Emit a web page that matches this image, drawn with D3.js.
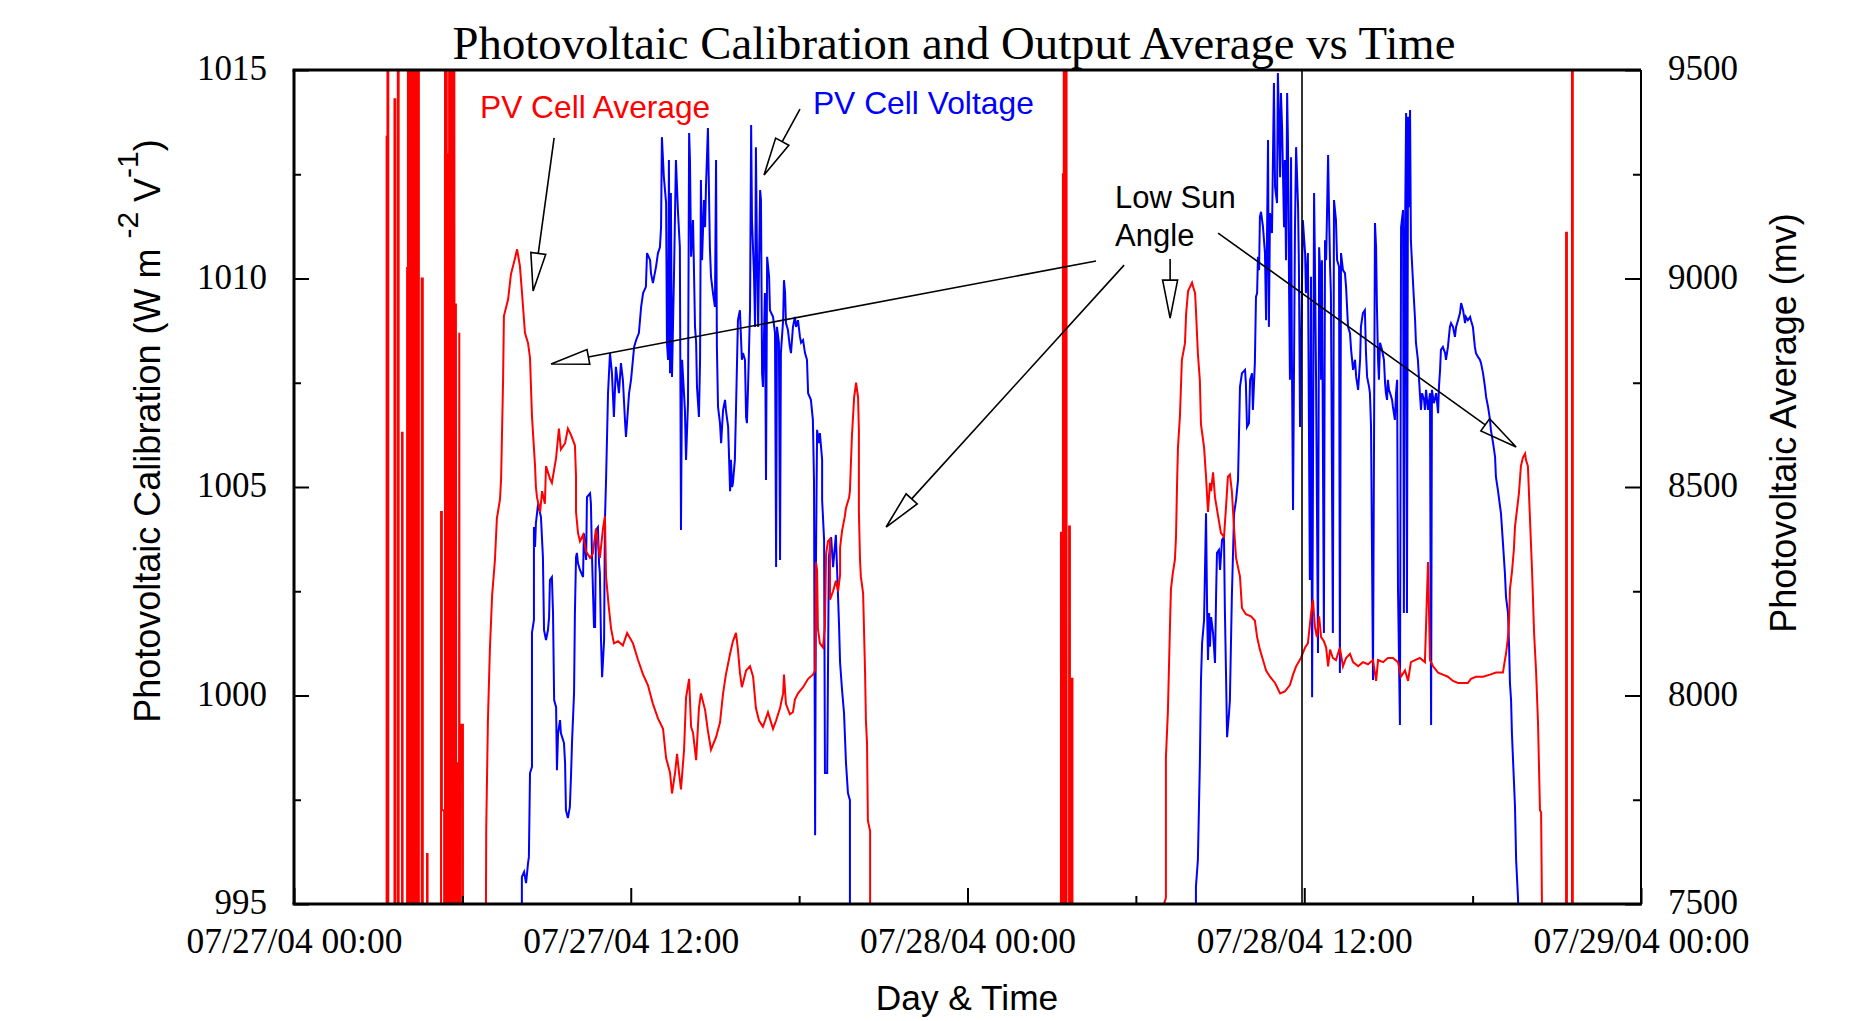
<!DOCTYPE html>
<html>
<head>
<meta charset="utf-8">
<script src="https://d3js.org/d3.v7.min.js"></script>
<style>
  body { margin: 0; background: #fff; }
  text { fill: #000; }
</style>
</head>
<body>
<svg width="1873" height="1021"></svg>
<script>
// hours after 07/27/04 00:00, PV cell average (left axis)
var pvAvgNight1 = [
  [3.30,990],[3.30,1013.4],[3.33,1013.4],[3.33,1020],[3.36,1020],[3.36,990],
  [3.58,990],[3.58,1014.3],[3.61,1014.3],[3.61,990],[3.70,990],[3.70,1020],[3.73,1020],[3.73,990],
  [3.85,990],[3.85,1006.3],[3.87,1006.3],[3.87,990],
  [4.03,990],[4.03,1010.25],[4.06,1010.25],[4.06,1020],[4.075,990],[4.09,1020],[4.105,990],[4.12,1020],
  [4.135,995.5],[4.15,1020],[4.165,990],[4.18,1020],[4.195,1004.2],[4.21,1020],[4.225,990],[4.24,1020],
  [4.255,990],[4.27,1020],[4.285,1002],[4.30,1020],[4.315,990],[4.33,1020],[4.345,990],[4.36,1020],
  [4.375,999.7],[4.39,1020],[4.405,990],[4.42,1020],[4.435,990],[4.45,1020],[4.45,990],
  [4.55,990],[4.55,1010.0],[4.59,1010.0],[4.59,990],
  [4.74,990],[4.74,996.2],[4.76,996.2],[4.76,990],
  [5.24,990],[5.24,1004.4],[5.27,1004.4],[5.27,997.25],[5.35,997.25],[5.35,990],
  [5.38,990],[5.38,1020],[5.395,990],[5.41,1020],[5.425,990],[5.44,1020],[5.455,990],[5.47,1013],
  [5.485,990],[5.50,1013],[5.515,990],[5.53,1020],[5.545,990],[5.56,1020],[5.575,990],[5.59,1020],
  [5.605,990],[5.62,1020],[5.635,990],[5.65,1020],[5.665,990],[5.68,1020],[5.695,990],[5.71,1020],
  [5.725,998.4],[5.74,1009.4],[5.755,990],[5.77,1009.4],[5.785,990],[5.80,998.4],[5.815,990],[5.83,998.4],
  [5.845,990],[5.86,998.4],[5.875,990],[5.89,1008.7],[5.905,990],[5.92,999.3],[5.935,990],[5.95,999.3],
  [6.02,999.3],[6.02,990]
];
var pvAvgDay1 = [
  [6.84,990],[6.84,995],[6.85,996.8],[6.91,999.4],[6.98,1001.1],[7.06,1002.4],[7.16,1003.25],[7.23,1004.25],
  [7.34,1004.7],[7.38,1005.2],[7.45,1007.55],[7.48,1009.1],[7.63,1009.5],[7.73,1010.1],[7.88,1010.5],
  [7.95,1010.7],[8.05,1010.3],[8.12,1009.7],[8.23,1008.7],[8.34,1008.45],[8.41,1008.1],[8.48,1006.7],
  [8.59,1005.5],[8.62,1005.0],[8.66,1004.75],[8.77,1004.4],[8.84,1004.9],[8.94,1004.6],[8.98,1005.5],
  [9.12,1005.2],[9.19,1005.1],[9.34,1005.7],[9.44,1006.4],[9.51,1005.9],[9.66,1006.05],[9.76,1006.4],
  [9.87,1006.25],[10.01,1006.0],[10.05,1005.25],[10.05,1004.4],[10.12,1003.9],[10.19,1003.7],[10.30,1003.85],
  [10.41,1003.45],[10.55,1003.3],[10.65,1003.4],[10.76,1004.0],[10.90,1003.3],[11.01,1004.0],[11.08,1004.3],
  [11.12,1002.85],[11.22,1002.1],[11.30,1001.6],[11.40,1001.25],[11.55,1001.3],[11.72,1001.2],[11.87,1001.5],
  [12.08,1001.25],[12.26,1000.85],[12.44,1000.5],[12.61,1000.25],[12.79,999.8],[12.97,999.45],[13.15,999.2],
  [13.26,998.5],[13.40,998.15],[13.47,997.65],[13.58,998.15],[13.65,998.6],[13.72,998.15],[13.79,997.75],
  [13.90,998.7],[13.97,999.95],[14.08,1000.4],[14.15,999.25],[14.22,999.1],[14.33,998.45],[14.43,999.7],
  [14.50,1000.05],[14.65,999.65],[14.75,999.15],[14.86,998.7],[15.04,999.0],[15.18,999.35],[15.29,1000.05],
  [15.39,1000.5],[15.54,1001.0],[15.64,1001.3],[15.75,1001.5],[15.82,1001.1],[15.89,1000.55],[15.96,1000.2],
  [16.00,1000.3],[16.11,1000.6],[16.25,1000.7],[16.36,1000.45],[16.46,999.7],[16.57,999.4],[16.71,999.25],
  [16.89,999.6],[17.07,999.2],[17.18,999.4],[17.32,999.7],[17.43,1000.05],[17.46,1000.5],[17.53,999.8],
  [17.67,999.55],[17.78,999.6],[17.85,999.9],[17.96,1000.05],[18.14,1000.2],[18.32,1000.4],[18.49,1000.5],
  [18.57,1000.6],[18.60,1003.2],[18.64,1003.0],[18.67,1001.6],[18.74,1001.25],[18.85,1001.15],[18.92,1001.65],
  [18.96,1003.4],[19.03,1003.7],[19.10,1003.75],[19.10,1002.3],[19.21,1002.5],[19.31,1002.75],[19.39,1002.5],
  [19.46,1002.9],[19.46,1003.55],[19.53,1003.95],[19.63,1004.3],[19.67,1004.5],[19.78,1004.75],[19.81,1004.9],
  [19.88,1006.2],[19.96,1007.15],[20.03,1007.5],[20.10,1007.15],[20.13,1006.35],[20.13,1004.4],[20.17,1003.25],
  [20.20,1002.85],[20.28,1002.45],[20.35,1000.55],[20.38,999.4],[20.42,998.85],[20.45,997.0],[20.53,996.75],
  [20.53,990]
];
var pvAvgNight2 = [
  [27.33,990],[27.33,1003.9],[27.36,1003.9],[27.36,990],[27.40,990],[27.40,1012.5],[27.43,1012.5],[27.43,1020],
  [27.47,1020],[27.47,990],[27.50,990],[27.50,1020],[27.53,1020],[27.53,990],[27.62,990],[27.62,1004.05],
  [27.65,1004.05],[27.65,990],[27.70,990],[27.70,1000.4],[27.74,1000.4],[27.74,990]
];
var pvAvgDay2 = [
  [31.00,990],[31.00,995],[31.07,995.15],[31.07,998.5],[31.14,999.6],[31.18,1000.7],[31.22,1001.8],
  [31.25,1002.55],[31.32,1002.95],[31.39,1003.25],[31.43,1003.8],[31.47,1005.15],[31.50,1005.95],
  [31.57,1006.7],[31.64,1008.05],[31.75,1008.45],[31.79,1009.15],[31.86,1009.7],[31.93,1009.8],[32.00,1009.9],
  [32.04,1009.8],[32.11,1009.65],[32.14,1009.25],[32.21,1008.2],[32.28,1007.55],[32.32,1006.5],[32.43,1005.95],
  [32.50,1005.25],[32.57,1004.4],[32.64,1005.1],[32.68,1004.9],[32.75,1005.35],[32.82,1004.75],[32.93,1004.3],
  [33.03,1003.9],[33.14,1003.8],[33.21,1004.5],[33.28,1005.25],[33.35,1005.3],[33.42,1004.9],[33.50,1004.0],
  [33.57,1003.3],[33.71,1002.85],[33.78,1002.1],[33.92,1001.95],[34.10,1001.9],[34.24,1001.8],[34.32,1001.4],
  [34.42,1001.1],[34.53,1000.85],[34.64,1000.6],[34.78,1000.45],[34.96,1000.3],[35.14,1000.05],[35.31,1000.1],
  [35.49,1000.25],[35.60,1000.5],[35.71,1000.7],[35.88,1000.9],[36.03,1001.15],[36.13,1001.25],[36.24,1001.95],
  [36.31,1002.3],[36.38,1001.65],[36.45,1001.4],[36.53,1001.9],[36.60,1001.4],[36.70,1001.3],[36.78,1001.15],
  [36.85,1000.7],[36.92,1001.1],[37.02,1000.9],[37.13,1000.85],[37.27,1001.15],[37.38,1000.7],[37.49,1000.9],
  [37.63,1001.0],[37.74,1000.8],[37.92,1000.7],[38.09,1000.8],[38.27,1000.75],[38.45,1000.85],[38.56,1000.35],
  [38.63,1000.85],[38.81,1000.8],[38.98,1000.9],[39.16,1000.9],[39.34,1000.8],[39.45,1000.45],[39.59,1000.6],
  [39.70,1000.35],[39.80,1000.8],[39.95,1000.85],[40.12,1000.9],[40.30,1000.8],[40.41,1003.2],[40.48,1000.85],
  [40.59,1000.7],[40.77,1000.55],[40.94,1000.5],[41.12,1000.45],[41.30,1000.35],[41.48,1000.3],[41.66,1000.3],
  [41.83,1000.3],[41.94,1000.4],[42.12,1000.45],[42.37,1000.45],[42.62,1000.5],[42.83,1000.55],[43.08,1000.55],
  [43.15,1000.85],[43.19,1001.0],[43.26,1001.4],[43.30,1001.8],[43.33,1002.55],[43.40,1002.95],[43.47,1003.5],
  [43.51,1004.05],[43.58,1004.45],[43.65,1004.85],[43.72,1005.5],[43.79,1005.7],[43.87,1005.8],[43.90,1005.65],
  [43.97,1005.5],[44.04,1004.3],[44.12,1002.95],[44.19,1001.5],[44.26,1000.6],[44.33,999.35],[44.40,997.25],
  [44.44,997.2],[44.47,995],[44.47,990]
];
var pvAvgNight3 = [
  [45.33,990],[45.33,1011.1],[45.36,1011.1],[45.36,990],[45.54,990],[45.54,1020],[45.57,1020],[45.57,990]
];

// PV cell voltage, mv (right axis)
var pvVoltDay1 = [
  [8.12,7400],[8.12,7565],[8.20,7577],[8.27,7550],[8.34,7598],[8.37,7613],[8.41,7814],[8.48,7829],[8.48,8150],
  [8.55,8181],[8.55,8404],[8.59,8356],[8.62,8413],[8.70,8461],[8.77,8437],[8.80,8428],[8.87,8332],[8.91,8157],
  [8.98,8133],[9.05,8157],[9.09,8188],[9.12,8277],[9.19,8284],[9.23,8198],[9.27,7989],[9.34,7972],[9.37,7821],
  [9.41,7910],[9.48,7941],[9.51,7910],[9.62,7886],[9.66,7838],[9.69,7725],[9.76,7706],[9.83,7733],[9.87,7805],
  [9.91,7893],[9.98,8006],[10.01,8198],[10.05,8332],[10.08,8342],[10.12,8317],[10.19,8301],[10.30,8284],
  [10.33,8389],[10.41,8325],[10.44,8476],[10.55,8485],[10.58,8461],[10.62,8332],[10.69,8164],[10.73,8164],
  [10.76,8397],[10.83,8404],[10.87,8317],[10.90,8294],[10.94,8133],[10.98,8044],[11.05,8133],[11.08,8421],
  [11.12,8517],[11.19,8725],[11.26,8821],[11.33,8773],[11.40,8668],[11.47,8788],[11.58,8725],[11.65,8797],
  [11.72,8757],[11.80,8653],[11.83,8620],[11.94,8725],[12.01,8757],[12.12,8836],[12.19,8852],[12.29,8869],
  [12.37,8932],[12.44,8965],[12.54,8980],[12.58,9061],[12.69,9044],[12.72,9013],[12.79,8989],[12.90,9028],
  [12.97,9061],[13.04,9075],[13.08,9123],[13.11,9339],[13.18,9243],[13.26,9181],[13.29,8846],[13.33,8805],
  [13.36,9284],[13.40,8773],[13.43,9205],[13.47,8764],[13.54,9004],[13.61,9284],[13.68,9164],[13.75,9075],
  [13.79,8397],[13.83,8805],[13.93,8685],[13.97,8565],[14.04,8701],[14.08,9349],[14.11,9284],[14.15,9052],
  [14.22,9140],[14.29,8884],[14.33,8846],[14.36,8740],[14.43,8668],[14.47,8805],[14.50,9236],[14.54,9044],
  [14.61,9188],[14.65,9123],[14.68,9219],[14.75,9361],[14.82,9075],[14.86,9004],[14.93,8965],[15.00,8932],
  [15.04,9284],[15.07,8836],[15.11,8692],[15.18,8653],[15.22,8605],[15.29,8685],[15.36,8709],[15.39,8685],
  [15.47,8644],[15.54,8490],[15.57,8565],[15.61,8500],[15.64,8509],[15.71,8565],[15.75,8685],[15.82,8900],
  [15.89,8924],[15.96,8805],[16.00,8821],[16.07,8805],[16.11,8668],[16.14,8653],[16.18,8740],[16.25,8924],
  [16.29,9368],[16.32,9140],[16.39,9013],[16.43,8884],[16.46,9315],[16.50,9044],[16.54,8884],[16.61,9212],
  [16.64,9188],[16.68,8773],[16.71,8740],[16.78,8965],[16.82,8517],[16.86,9052],[16.93,9004],[16.96,8924],
  [17.07,8908],[17.14,8869],[17.18,8308],[17.21,8884],[17.28,8846],[17.32,8325],[17.35,8821],[17.43,8900],
  [17.46,8996],[17.50,8965],[17.53,8893],[17.60,8877],[17.67,8836],[17.71,8821],[17.78,8884],[17.85,8908],
  [17.89,8884],[17.96,8900],[18.03,8860],[18.07,8846],[18.14,8852],[18.21,8821],[18.28,8805],[18.32,8725],
  [18.42,8709],[18.49,8661],[18.53,8517],[18.57,7665],[18.60,8317],[18.64,8637],[18.71,8605],[18.74,8629],
  [18.82,8565],[18.82,8469],[18.89,8373],[18.92,7814],[19.00,7814],[19.06,8332],[19.14,8380],[19.21,8308],
  [19.31,8385],[19.35,8308],[19.42,8174],[19.46,8078],[19.53,8013],[19.60,7958],[19.67,7838],[19.74,7766],
  [19.81,7749],[19.81,7400]
];
var pvVoltDay2 = [
  [32.14,7400],[32.14,7541],[32.21,7606],[32.28,7838],[32.32,8037],[32.36,8126],[32.43,8181],[32.50,8437],
  [32.54,8198],[32.57,8085],[32.61,8198],[32.64,8117],[32.68,8188],[32.75,8150],[32.82,8078],[32.86,8246],
  [32.89,8342],[32.96,8349],[33.00,8301],[33.07,8373],[33.14,8380],[33.17,8212],[33.21,8061],[33.25,7900],
  [33.32,7958],[33.35,7989],[33.42,8236],[33.50,8437],[33.57,8469],[33.64,8517],[33.71,8740],[33.78,8773],
  [33.89,8781],[33.92,8749],[33.96,8644],[34.03,8653],[34.07,8757],[34.14,8773],[34.17,8685],[34.24,8797],
  [34.28,8956],[34.32,8965],[34.35,9052],[34.39,9020],[34.42,9148],[34.46,9160],[34.53,9123],[34.60,9061],
  [34.64,8900],[34.71,9332],[34.74,8884],[34.78,9157],[34.85,9109],[34.92,9469],[34.96,9219],[35.03,9181],
  [35.06,9493],[35.10,9380],[35.14,9243],[35.17,9445],[35.21,9363],[35.28,9123],[35.31,9284],[35.35,9044],
  [35.39,9445],[35.42,9325],[35.46,8965],[35.49,8757],[35.53,9291],[35.56,8805],[35.60,8445],[35.67,9123],
  [35.71,9315],[35.78,9171],[35.81,9028],[35.85,8644],[35.95,9140],[36.03,9061],[36.06,8965],[36.13,9061],
  [36.20,8277],[36.24,9004],[36.28,7996],[36.35,9205],[36.38,9044],[36.42,8764],[36.49,8102],[36.53,9075],
  [36.56,9028],[36.60,8757],[36.63,9044],[36.70,8150],[36.74,9092],[36.78,9044],[36.85,9296],[36.88,9171],
  [36.92,9028],[36.95,8965],[37.02,8150],[37.06,9188],[37.13,9140],[37.17,9044],[37.24,9028],[37.27,8054],
  [37.31,9061],[37.38,9020],[37.45,9013],[37.49,8980],[37.56,8884],[37.63,8869],[37.67,8829],[37.74,8781],
  [37.81,8805],[37.85,8764],[37.92,8733],[37.99,8805],[38.02,8884],[38.09,8917],[38.16,8924],[38.20,8821],
  [38.24,8764],[38.31,8740],[38.34,8725],[38.38,8644],[38.45,8037],[38.52,9133],[38.56,9075],[38.59,8932],
  [38.63,8805],[38.66,8757],[38.70,8846],[38.77,8829],[38.84,8805],[38.88,8749],[38.91,8725],[38.95,8709],
  [38.98,8757],[39.02,8733],[39.06,8725],[39.13,8709],[39.16,8692],[39.23,8661],[39.27,8725],[39.31,8757],
  [39.34,8260],[39.41,7929],[39.45,9123],[39.52,9164],[39.55,8198],[39.59,9092],[39.63,9397],[39.66,8198],
  [39.70,9388],[39.73,9171],[39.77,9404],[39.80,9092],[39.84,9037],[39.91,8948],[39.95,8900],[39.98,8846],
  [40.05,8805],[40.12,8725],[40.16,8685],[40.20,8725],[40.27,8709],[40.30,8685],[40.34,8733],[40.41,8685],
  [40.48,8725],[40.52,7929],[40.55,8733],[40.62,8701],[40.70,8725],[40.77,8677],[40.80,8740],[40.84,8781],
  [40.87,8829],[40.94,8836],[41.02,8821],[41.05,8805],[41.12,8836],[41.19,8884],[41.23,8893],[41.30,8884],
  [41.37,8860],[41.41,8884],[41.48,8900],[41.55,8917],[41.59,8941],[41.66,8924],[41.73,8893],[41.76,8908],
  [41.83,8900],[41.91,8908],[41.94,8900],[42.01,8884],[42.08,8836],[42.12,8821],[42.19,8812],[42.26,8805],
  [42.30,8797],[42.37,8773],[42.44,8740],[42.48,8716],[42.55,8692],[42.62,8661],[42.65,8637],[42.73,8605],
  [42.80,8572],[42.83,8524],[42.90,8493],[42.98,8452],[43.01,8437],[43.08,8366],[43.15,8294],[43.19,8236],
  [43.26,8198],[43.30,8117],[43.33,8030],[43.37,7989],[43.40,7910],[43.47,7797],[43.51,7733],[43.55,7606],
  [43.62,7510],[43.62,7400]
];

var leftTicks = [995, 1000, 1005, 1010, 1015];
var leftMinor = [997.5, 1002.5, 1007.5, 1012.5];
var rightTicks = [7500, 8000, 8500, 9000, 9500];
var rightMinor = [7750, 8250, 8750, 9250];
var hourTicks = [0, 12, 24, 36, 48];
var hourMinor = [6, 18, 30, 42];

// annotations: [fromHour, fromValue, toHour, toValue] on the left axis
var arrows = [
  [9.27, 1013.37, 8.52, 1009.70],
  [18.03, 1014.06, 16.75, 1012.48],
  [28.58, 1010.42, 9.16, 1007.95],
  [29.58, 1010.32, 21.10, 1004.04],
  [31.22, 1010.47, 31.22, 1009.05],
  [32.93, 1011.09, 43.55, 1005.96]
];
var noonMarker = 35.92;

var svg = d3.select("svg"),
    margin = {top: 70, right: 232, bottom: 117, left: 294},
    width = +svg.attr("width") - margin.left - margin.right,
    height = +svg.attr("height") - margin.top - margin.bottom;

var t0 = Date.UTC(2004, 6, 27);
function hr(h) { return new Date(t0 + h * 3600e3); }

var x = d3.scaleUtc().domain([hr(0), hr(48)]).range([0, width]),
    yL = d3.scaleLinear().domain([995, 1015]).range([height, 0]),
    yR = d3.scaleLinear().domain([7500, 9500]).range([height, 0]);

var serif = "'Liberation Serif', 'Times New Roman', serif",
    sans = "'Liberation Sans', Arial, Helvetica, sans-serif";

svg.append("defs").append("clipPath").attr("id", "clip")
  .append("rect").attr("width", width).attr("height", height);

var g = svg.append("g")
    .attr("transform", "translate(" + margin.left + "," + margin.top + ")");

var plot = g.append("g").attr("clip-path", "url(#clip)");

var redLine = d3.line().x(function(d) { return x(hr(d[0])); }).y(function(d) { return yL(d[1]); });
var blueLine = d3.line().x(function(d) { return x(hr(d[0])); }).y(function(d) { return yR(d[1]); });

plot.append("path")
    .datum(pvVoltDay1.concat(pvVoltDay2))
    .attr("fill", "none").attr("stroke", "#0000ff").attr("stroke-width", 2)
    .attr("d", blueLine);

plot.append("path")
    .datum(pvAvgNight1.concat(pvAvgDay1, pvAvgNight2, pvAvgDay2, pvAvgNight3))
    .attr("fill", "none").attr("stroke", "#ff0000").attr("stroke-width", 2)
    .attr("d", redLine);

plot.append("line")
    .attr("x1", x(hr(noonMarker))).attr("x2", x(hr(noonMarker)))
    .attr("y1", 0).attr("y2", height)
    .attr("stroke", "#000").attr("stroke-width", 1.6);

// axes
function styleAxis(sel, w) {
  sel.select(".domain").remove();
  sel.selectAll("line").attr("stroke", "#000").attr("stroke-width", w);
  sel.selectAll("text").attr("font-family", serif).attr("font-size", 35).attr("fill", "#000");
}

g.append("g")
    .call(d3.axisLeft(yL).tickValues(leftTicks).tickSize(-15).tickPadding(27).tickFormat(d3.format("d")))
    .call(styleAxis, 2)
    .selectAll("text").attr("dy", "0.28em");
g.append("g")
    .call(d3.axisLeft(yL).tickValues(leftMinor).tickSize(-7).tickFormat(""))
    .call(styleAxis, 2);

g.append("g").attr("transform", "translate(" + width + ",0)")
    .call(d3.axisRight(yR).tickValues(rightTicks).tickSize(-16).tickPadding(27).tickFormat(d3.format("d")))
    .call(styleAxis, 2)
    .selectAll("text").attr("dy", "0.28em");
g.append("g").attr("transform", "translate(" + width + ",0)")
    .call(d3.axisRight(yR).tickValues(rightMinor).tickSize(-8).tickFormat(""))
    .call(styleAxis, 2);

g.append("g").attr("transform", "translate(0," + height + ")")
    .call(d3.axisBottom(x).tickValues(hourTicks.map(hr)).tickSize(-16).tickPadding(24)
      .tickFormat(d3.utcFormat("%m/%d/%y %H:%M")))
    .call(styleAxis, 2)
    .selectAll("text").attr("font-size", 35.5);
g.append("g").attr("transform", "translate(0," + height + ")")
    .call(d3.axisBottom(x).tickValues(hourMinor.map(hr)).tickSize(-8).tickFormat(""))
    .call(styleAxis, 2);

// frame
g.append("line").attr("x1", -1.5).attr("x2", width).attr("y1", 0).attr("y2", 0)
    .attr("stroke", "#000").attr("stroke-width", 3.2);
g.append("line").attr("x1", -1.5).attr("x2", width + 1).attr("y1", height).attr("y2", height)
    .attr("stroke", "#000").attr("stroke-width", 3.2);
g.append("line").attr("x1", 0).attr("x2", 0).attr("y1", 0).attr("y2", height)
    .attr("stroke", "#000").attr("stroke-width", 3);
g.append("line").attr("x1", width).attr("x2", width).attr("y1", 0).attr("y2", height)
    .attr("stroke", "#000").attr("stroke-width", 2);

// arrows with open heads
var headLen = 38, headHalf = 7.5;
arrows.forEach(function(a) {
  var x1 = x(hr(a[0])), y1 = yL(a[1]), x2 = x(hr(a[2])), y2 = yL(a[3]);
  var dx = x2 - x1, dy = y2 - y1, len = Math.sqrt(dx * dx + dy * dy);
  var ux = dx / len, uy = dy / len;
  var bx = x2 - ux * headLen, by = y2 - uy * headLen;
  g.append("line").attr("x1", x1).attr("y1", y1).attr("x2", bx).attr("y2", by)
      .attr("stroke", "#000").attr("stroke-width", 1.6);
  g.append("path")
      .attr("d", "M" + x2 + "," + y2 + "L" + (bx - uy * headHalf) + "," + (by + ux * headHalf) +
                 "L" + (bx + uy * headHalf) + "," + (by - ux * headHalf) + "Z")
      .attr("fill", "none").attr("stroke", "#000").attr("stroke-width", 1.6);
});

// annotation labels
g.append("text").attr("x", x(hr(6.63))).attr("y", yL(1013.85))
    .attr("font-family", sans).attr("font-size", 31.7).style("fill", "#ff0000")
    .text("PV Cell Average");
g.append("text").attr("x", x(hr(18.49))).attr("y", yL(1013.94))
    .attr("font-family", sans).attr("font-size", 31.8).style("fill", "#0000ff")
    .text("PV Cell Voltage");
g.append("text").attr("x", x(hr(29.26))).attr("y", yL(1011.69))
    .attr("font-family", sans).attr("font-size", 31).text("Low Sun");
g.append("text").attr("x", x(hr(29.26))).attr("y", yL(1010.78))
    .attr("font-family", sans).attr("font-size", 31).text("Angle");

// titles
svg.append("text").attr("x", 954).attr("y", 59).attr("text-anchor", "middle")
    .attr("font-family", serif).attr("font-size", 46.7)
    .text("Photovoltaic Calibration and Output Average vs Time");

svg.append("text").attr("x", 967).attr("y", 1010).attr("text-anchor", "middle")
    .attr("font-family", sans).attr("font-size", 35.3)
    .text("Day & Time");

var yl = svg.append("text").attr("transform", "translate(160,431) rotate(-90)")
    .attr("text-anchor", "middle").attr("font-family", sans).attr("font-size", 36);
yl.append("tspan").text("Photovoltaic Calibration (W m ");
yl.append("tspan").attr("dy", -22).attr("font-size", 30).text("-2");
yl.append("tspan").attr("dy", 22).text(" V");
yl.append("tspan").attr("dy", -22).attr("font-size", 30).text("-1");
yl.append("tspan").attr("dy", 22).text(")");

svg.append("text").attr("transform", "translate(1796,423) rotate(-90)")
    .attr("text-anchor", "middle").attr("font-family", sans).attr("font-size", 36)
    .text("Photovoltaic Average (mv)");
</script>
</body>
</html>
